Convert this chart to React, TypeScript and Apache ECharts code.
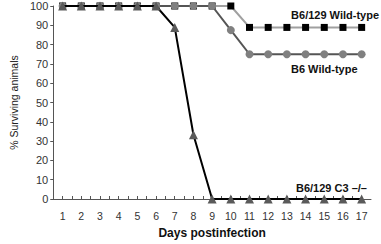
import React, { useEffect, useRef } from "react";
import * as echarts from "echarts";

const days = [1, 2, 3, 4, 5, 6, 7, 8, 9, 10, 11, 12, 13, 14, 15, 16, 17];
const b6129WT = [100, 100, 100, 100, 100, 100, 100, 100, 100, 100, 88.9, 88.9, 88.9, 88.9, 88.9, 88.9, 88.9];
const b6WT = [100, 100, 100, 100, 100, 100, 100, 100, 100, 87.5, 75, 75, 75, 75, 75, 75, 75];
const b6129C3 = [100, 100, 100, 100, 100, 100, 88.9, 33.3, 0, 0, 0, 0, 0, 0, 0, 0, 0];
const seriesNames = ["B6/129 Wild-type", "B6 Wild-type", "B6/129 C3 \u2013/\u2013"];
const yTicks = [0, 10, 20, 30, 40, 50, 60, 70, 80, 90, 100];

const FONT = "'Liberation Sans', Arial, sans-serif";

export default function App() {
  const ref = useRef<HTMLDivElement>(null);
  useEffect(() => {
    if (!ref.current) return;
    const chart = echarts.init(ref.current, undefined, { renderer: "svg" });
    const pairs = (vals: number[]) => days.map((d, i) => [d, vals[i]]);
    chart.setOption({
      animation: false,
      backgroundColor: "#ffffff",
      grid: { left: 41, right: 10, top: 6, bottom: 42 },
      xAxis: {
        type: "value",
        min: 0.5,
        max: 17.5,
        interval: 0.5,
        name: "Days postinfection",
        nameLocation: "middle",
        nameGap: 28,
        nameTextStyle: { fontFamily: FONT, fontSize: 12, fontWeight: "bold", color: "#111" },
        axisLine: { lineStyle: { color: "#555", width: 1 } },
        axisTick: { inside: true, length: 3, lineStyle: { color: "#555" } },
        axisLabel: {
          fontFamily: FONT,
          fontSize: 10.5,
          color: "#333",
          margin: 11,
          showMinLabel: false,
          showMaxLabel: false,
          formatter: (v: number) => (Number.isInteger(v) && days.includes(v) ? String(v) : ""),
        },
        splitLine: { show: false },
      },
      yAxis: {
        type: "value",
        min: yTicks[0],
        max: yTicks[yTicks.length - 1],
        interval: 10,
        name: "% Surviving animals",
        nameLocation: "middle",
        nameGap: 29,
        nameTextStyle: { fontFamily: FONT, fontSize: 10.5, color: "#222" },
        axisLine: { show: true, lineStyle: { color: "#555", width: 1 } },
        axisTick: { show: true, length: 3, lineStyle: { color: "#555" } },
        axisLabel: { fontFamily: FONT, fontSize: 11, color: "#333", margin: 5 },
        splitLine: { show: false },
      },
      series: [
        {
          name: seriesNames[0],
          type: "line",
          data: pairs(b6129WT),
          symbol: "rect",
          symbolSize: 7,
          itemStyle: { color: "#000000" },
          lineStyle: { color: "#a0a0a0", width: 2 },
          z: 2,
        },
        {
          name: seriesNames[1],
          type: "line",
          data: pairs(b6WT),
          symbol: "circle",
          symbolSize: 8,
          itemStyle: { color: "#808080" },
          lineStyle: { color: "#555555", width: 2 },
          z: 3,
        },
        {
          name: seriesNames[2],
          type: "line",
          data: pairs(b6129C3),
          symbol: "triangle",
          symbolSize: 9,
          itemStyle: { color: "#5a5a5a" },
          lineStyle: { color: "#000000", width: 2 },
          z: 4,
        },
      ],
      graphic: [
        {
          type: "text",
          right: 2,
          top: 9,
          style: { text: seriesNames[0], font: `bold 11px ${FONT}`, fill: "#111" },
        },
        {
          type: "text",
          left: 291,
          top: 63,
          style: { text: seriesNames[1], font: `bold 11px ${FONT}`, fill: "#111" },
        },
        {
          type: "text",
          left: 296,
          top: 182,
          style: { text: seriesNames[2], font: `bold 11px ${FONT}`, fill: "#111" },
        },
      ],
    });
    return () => chart.dispose();
  }, []);
  return <div ref={ref} style={{ width: 381, height: 244, position: "absolute", left: 0, top: 0 }} />;
}
